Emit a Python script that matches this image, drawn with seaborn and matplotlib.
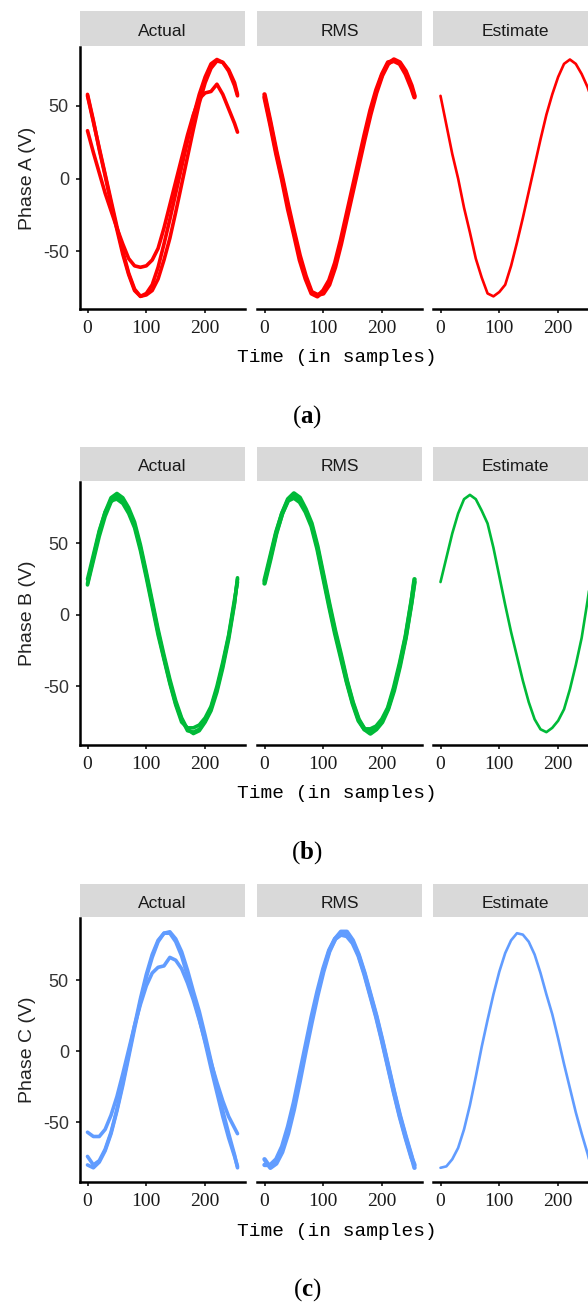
import pandas as pd
import matplotlib
matplotlib.use("Agg")
import matplotlib.pyplot as plt
import seaborn as sns

# sample positions (time, in samples)
samples = [0, 10, 20, 30, 40, 50, 60, 70, 80, 90, 100, 110, 120, 130,
           140, 150, 160, 170, 180, 190, 200, 210, 220, 230, 240, 250, 255]

# Phase A
a_actual_1 = [58, 40, 20, 2, -17, -35, -52, -66, -77, -81, -79, -73, -61, -45,
              -28, -10, 8, 26, 43, 58, 70, 79, 82, 80, 74, 64, 57]
a_actual_2 = [33, 18, 4, -10, -22, -34, -45, -55, -60, -61, -60, -56, -48, -34,
              -18, -2, 14, 30, 44, 55, 59, 60, 65, 58, 48, 38, 32]
a_actual_3 = [57, 39, 21, 3, -15, -33, -50, -65, -76, -81, -80, -77, -69, -56,
              -41, -23, -4, 15, 34, 52, 66, 76, 81, 80, 75, 66, 58]
a_rms_1 = [58, 39, 19, 1, -18, -36, -53, -67, -78, -80, -79, -73, -61, -45,
           -27, -9, 9, 27, 44, 59, 71, 79, 82, 80, 74, 64, 57]
a_rms_2 = [56, 37, 17, -1, -21, -38, -56, -69, -79, -81, -77, -70, -58, -42,
           -24, -6, 12, 30, 47, 61, 72, 80, 81, 79, 72, 62, 56]
a_est = [57, 37, 17, 0, -20, -37, -55, -68, -79, -81, -78, -73, -60, -44,
         -27, -9, 9, 27, 44, 58, 70, 79, 82, 79, 72, 63, 57]

# Phase B
b_actual_1 = [22, 40, 58, 72, 82, 85, 82, 75, 65, 49, 30, 10, -10, -28,
              -45, -60, -72, -80, -83, -81, -75, -67, -54, -37, -17, 8, 26]
b_actual_2 = [25, 42, 59, 72, 80, 81, 78, 71, 61, 45, 26, 6, -14, -31,
              -48, -63, -75, -79, -79, -77, -72, -64, -50, -33, -14, 11, 23]
b_actual_3 = [21, 38, 55, 69, 79, 83, 80, 73, 63, 47, 28, 8, -12, -30,
              -47, -62, -73, -81, -82, -80, -74, -65, -52, -35, -15, 9, 25]
b_rms_1 = [22, 39, 57, 71, 81, 85, 82, 74, 64, 48, 28, 8, -11, -28,
           -46, -61, -73, -80, -83, -80, -75, -66, -53, -36, -16, 9, 25]
b_rms_2 = [24, 41, 58, 71, 80, 82, 79, 72, 62, 46, 26, 6, -13, -30,
           -47, -62, -74, -80, -80, -78, -73, -65, -51, -34, -15, 10, 23]
b_est = [23, 40, 57, 71, 81, 84, 81, 73, 64, 47, 27, 7, -12, -29,
         -46, -61, -73, -80, -82, -79, -74, -66, -52, -35, -16, 10, 24]

# Phase C
c_actual_1 = [-80, -82, -78, -70, -58, -42, -24, -4, 16, 35, 52, 66, 77, 83,
              84, 79, 70, 57, 42, 28, 11, -7, -25, -42, -58, -73, -82]
c_actual_2 = [-57, -60, -60, -55, -45, -32, -16, 1, 18, 33, 46, 55, 59, 60,
              66, 64, 58, 48, 36, 22, 7, -8, -22, -35, -46, -54, -58]
c_actual_3 = [-74, -80, -77, -69, -57, -41, -22, -2, 18, 37, 54, 68, 78, 83,
              83, 77, 67, 53, 38, 23, 6, -12, -29, -46, -61, -74, -81]
c_rms_1 = [-76, -82, -79, -71, -58, -41, -21, 0, 20, 39, 56, 70, 79, 84,
           84, 78, 68, 55, 40, 25, 8, -10, -28, -45, -60, -74, -82]
c_rms_2 = [-80, -80, -76, -67, -53, -36, -16, 4, 24, 42, 58, 71, 79, 82,
           81, 76, 67, 54, 39, 24, 7, -11, -29, -46, -61, -75, -80]
c_est = [-82, -81, -76, -68, -55, -38, -18, 3, 22, 40, 56, 69, 78, 83,
         82, 77, 68, 55, 40, 26, 9, -9, -26, -43, -58, -72, -80]

facets = ["Actual", "RMS", "Estimate"]
phases = ["A", "B", "C"]
captions = ["a", "b", "c"]
colours = ["#FF0000", "#00BA38", "#619CFF"]

traces = {
    ("A", "Actual"): [a_actual_1, a_actual_2, a_actual_3],
    ("A", "RMS"): [a_rms_1, a_rms_2],
    ("A", "Estimate"): [a_est],
    ("B", "Actual"): [b_actual_1, b_actual_2, b_actual_3],
    ("B", "RMS"): [b_rms_1, b_rms_2],
    ("B", "Estimate"): [b_est],
    ("C", "Actual"): [c_actual_1, c_actual_2, c_actual_3],
    ("C", "RMS"): [c_rms_1, c_rms_2],
    ("C", "Estimate"): [c_est],
}

rows = []
for (ph, fc), lst in traces.items():
    for k, vals in enumerate(lst):
        for t, v in zip(samples, vals):
            rows.append({"phase": ph, "facet": fc, "trace": k, "time": t, "volts": v})
df = pd.DataFrame(rows)

sns.set_style("white")
plt.rcParams["font.family"] = ["Liberation Sans", "DejaVu Sans"]
plt.rcParams["mathtext.fontset"] = "custom"
plt.rcParams["mathtext.rm"] = "Liberation Serif"
plt.rcParams["mathtext.bf"] = "Liberation Serif:bold"

W, H = 588, 1302


def rect(x0, y0, x1, y1):
    return [x0 / W, 1 - y1 / H, (x1 - x0) / W, (y1 - y0) / H]


fig = plt.figure(figsize=(W / 100, H / 100), dpi=100)

strip_tops = [11, 447, 884]
plot_tops = [47, 482, 918]
plot_bottoms = [309, 745, 1182]
ylims = [(-89.7, 90.6), (-91, 93), (-92, 93.7)]
facet_x = [(80, 245), (257, 422), (433, 598)]
widths = {"Actual": 2.6, "RMS": 3.2, "Estimate": 1.9}

for p, ph in enumerate(phases):
    for f, fc in enumerate(facets):
        x0, x1 = facet_x[f]
        ax = fig.add_axes(rect(x0, plot_tops[p], x1, plot_bottoms[p]))
        sub = df[(df["phase"] == ph) & (df["facet"] == fc)]
        sns.lineplot(data=sub, x="time", y="volts", units="trace", estimator=None,
                     color=colours[p], linewidth=widths[fc], ax=ax)
        ax.set_xlim(-12.75, 267.75)
        ax.set_ylim(*ylims[p])
        ax.set_xticks([0, 100, 200])
        ax.set_xticklabels(["0", "100", "200"], family="Liberation Serif",
                           fontsize=14, color="#1A1A1A")
        ax.set_xlabel("")
        ax.set_ylabel("")
        for s in ["top", "right"]:
            ax.spines[s].set_visible(False)
        ax.spines["bottom"].set_linewidth(1.8)
        ax.spines["bottom"].set_color("black")
        ax.tick_params(axis="x", length=3, width=1.1, color="black", pad=5, bottom=True)
        if f == 0:
            ax.spines["left"].set_linewidth(1.8)
            ax.spines["left"].set_color("black")
            ax.set_yticks([-50, 0, 50])
            ax.set_yticklabels(["-50", "0", "50"], fontsize=13, color="#333333")
            ax.tick_params(axis="y", length=3, width=1.1, color="black", pad=5, left=True)
        else:
            ax.spines["left"].set_visible(False)
            ax.set_yticks([])

        sax = fig.add_axes(rect(x0, strip_tops[p], x1, plot_tops[p] - 1))
        sax.set_facecolor("#D9D9D9")
        sax.set_xticks([])
        sax.set_yticks([])
        for s in sax.spines.values():
            s.set_visible(False)
        sax.text(0.5, 0.42, fc, ha="center", va="center", fontsize=12.5,
                 color="#1A1A1A", transform=sax.transAxes)

    mid = (plot_tops[p] + plot_bottoms[p]) / 2
    fig.text(27 / W, 1 - mid / H, f"Phase {ph} (V)", rotation=90, ha="center",
             va="center", fontsize=14, color="#222222")
    fig.text(337 / W, 1 - (plot_bottoms[p] + 49) / H, "Time (in samples)",
             ha="center", va="center", fontsize=14, family="Liberation Mono",
             color="black")
    fig.text(307 / W, 1 - (plot_bottoms[p] + 108) / H,
             r"$\mathrm{(}\mathbf{" + captions[p] + r"}\mathrm{)}$",
             ha="center", va="center", fontsize=18, color="black")

fig.savefig("out.png", dpi=100)
